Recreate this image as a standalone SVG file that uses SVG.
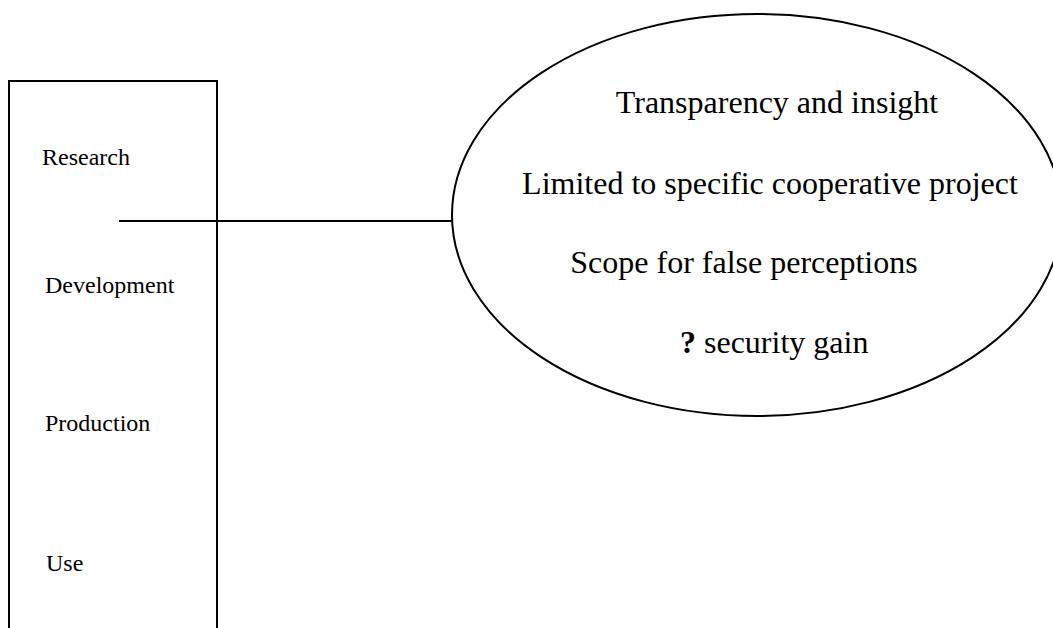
<svg xmlns="http://www.w3.org/2000/svg" width="1053" height="628" viewBox="0 0 1053 628">
<style>
.s{fill:none;stroke:#000;stroke-width:2}
.l{font-family:"Liberation Serif","Times New Roman",serif;font-size:24px;fill:#000}
.e{font-family:"Liberation Serif","Times New Roman",serif;font-size:32px;fill:#000}
</style>
<rect width="1053" height="628" fill="#fff"/>
<g id="stages">
<path class="s" d="M9,630 V81 H217 V630"/>
<text class="l" x="42" y="165">Research</text>
<text class="l" x="45" y="293">Development</text>
<text class="l" x="45" y="431">Production</text>
<text class="l" x="46" y="571">Use</text>
</g>
<g id="connectors">
<line class="s" x1="119" y1="221" x2="452" y2="221"/>
</g>
<g id="effects">
<ellipse class="s" cx="757" cy="215" rx="305" ry="201"/>
<text class="e" x="777" y="113" text-anchor="middle">Transparency and insight</text>
<text class="e" x="770" y="194" text-anchor="middle">Limited to specific cooperative project</text>
<text class="e" x="744" y="273" text-anchor="middle">Scope for false perceptions</text>
<text class="e" x="680" y="353"><tspan font-weight="bold">?</tspan> security gain</text>
</g>
</svg>
